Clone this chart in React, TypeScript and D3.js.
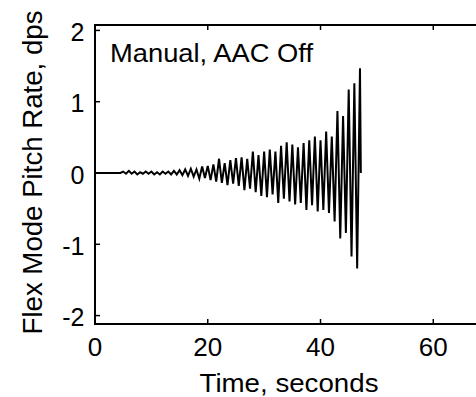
import React from "react";
import * as d3 from "d3";

// ---- data ----
const signalTime: number[] = [
  0, 4.5,
  5.0, 5.5, 6.0, 6.5, 7.0, 7.5, 8.0, 8.5, 9.0, 9.5,
  10.0, 10.5, 11.0, 11.5, 12.0, 12.5, 13.0, 13.5, 14.0, 14.5,
  15.0, 15.5, 16.0, 16.5, 17.0, 17.5, 18.0, 18.5, 19.0, 19.5,
  20.0, 20.5, 21.0, 21.5, 22.0, 22.5, 23.0, 23.5, 24.0, 24.5,
  25.0, 25.5, 26.0, 26.5, 27.0, 27.5, 28.0, 28.5, 29.0, 29.5,
  30.0, 30.5, 31.0, 31.5, 32.0, 32.5, 33.0, 33.5, 34.0, 34.5,
  35.0, 35.5, 36.0, 36.5, 37.0, 37.5, 38.0, 38.5, 39.0, 39.5,
  40.0, 40.5, 41.0, 41.5, 42.0, 42.5, 43.0, 43.5, 44.0, 44.5,
  45.0, 45.5, 46.0, 46.5, 47.0, 47.15,
];
const signalValue: number[] = [
  0, 0,
  0.02, -0.01, 0.03, -0.01, 0.02, -0.02, 0.01, -0.01, 0.02, -0.01,
  0.02, -0.02, 0.01, -0.02, 0.02, -0.01, 0.02, -0.02, 0.03, -0.02,
  0.04, -0.03, 0.05, -0.04, 0.06, -0.05, 0.05, -0.08, 0.09, -0.07,
  0.10, -0.10, 0.12, -0.12, 0.20, -0.14, 0.14, -0.17, 0.18, -0.15,
  0.21, -0.18, 0.22, -0.24, 0.20, -0.22, 0.30, -0.27, 0.25, -0.32,
  0.30, -0.34, 0.33, -0.30, 0.30, -0.42, 0.38, -0.36, 0.43, -0.40,
  0.40, -0.44, 0.36, -0.42, 0.42, -0.52, 0.46, -0.45, 0.51, -0.54,
  0.46, -0.52, 0.58, -0.56, 0.51, -0.68, 0.87, -0.92, 0.80, -0.84,
  1.17, -1.17, 1.26, -1.34, 1.47, 0.0,
];
const xTicks: number[] = [0, 20, 40, 60];
const yTicks: number[] = [-2, -1, 0, 1, 2];
const xLabel = "Time, seconds";
const yLabel = "Flex Mode Pitch Rate, dps";
const annotation = "Manual, AAC Off";

const W = 476;
const H = 397;
const FONT = "'Liberation Sans', Arial, sans-serif";

export default function App() {
  const left = 95;
  const top = 25;
  const bottom = 324;
  const x = d3.scaleLinear().domain([0, 70]).range([left, left + 70 * 5.638]);
  const y = d3.scaleLinear().domain([-2.118, 2.076]).range([bottom, top]);

  const pts: [number, number][] = signalTime.map((t, i) => [t, signalValue[i]]);
  const line = d3
    .line<[number, number]>()
    .x((d) => x(d[0]))
    .y((d) => y(d[1]));

  const right = x(70);
  const tickLen = 5;

  return (
    <svg
      width={W}
      height={H}
      style={{ position: "absolute", left: 0, top: 0, background: "#fff" }}
      fontFamily={FONT}
    >
      <rect x={0} y={0} width={W} height={H} fill="#fff" />
      {/* data */}
      <path d={line(pts) || ""} fill="none" stroke="#000" strokeWidth={2} strokeLinejoin="miter" />
      {/* axes box */}
      <line x1={left} x2={left} y1={top} y2={bottom} stroke="#000" strokeWidth={2} />
      <line x1={left - 1} x2={right} y1={bottom} y2={bottom} stroke="#000" strokeWidth={2} />
      <line x1={left - 1} x2={right} y1={top} y2={top} stroke="#000" strokeWidth={2} />
      {/* y ticks */}
      {yTicks.map((v) => (
        <g key={"y" + v}>
          <line x1={left} x2={left + tickLen} y1={y(v)} y2={y(v)} stroke="#000" strokeWidth={1.5} />
          <text x={84.5} y={y(v) + 10.5} textAnchor="end" fontSize={25} fill="#000">
            {v < 0 ? "-" + Math.abs(v) : String(v)}
          </text>
        </g>
      ))}
      {/* x ticks */}
      {xTicks.map((v) => (
        <g key={"x" + v}>
          <line x1={x(v)} x2={x(v)} y1={bottom} y2={bottom - tickLen} stroke="#000" strokeWidth={1.5} />
          <line x1={x(v)} x2={x(v)} y1={top} y2={top + tickLen} stroke="#000" strokeWidth={1.5} />
          <text x={x(v)} y={356} textAnchor="middle" fontSize={26} fill="#000">
            {String(v)}
          </text>
        </g>
      ))}
      {/* labels */}
      <text
        x={289}
        y={392}
        textAnchor="middle"
        fontSize={26}
        fill="#000"
        textLength={179}
        lengthAdjust="spacingAndGlyphs"
      >
        {xLabel}
      </text>
      <text
        transform={`translate(42, 172.5) rotate(-90)`}
        textAnchor="middle"
        fontSize={27}
        fill="#000"
        textLength={324}
        lengthAdjust="spacingAndGlyphs"
      >
        {yLabel}
      </text>
      <text
        x={110}
        y={61.5}
        fontSize={26}
        fill="#000"
        textLength={203}
        lengthAdjust="spacingAndGlyphs"
      >
        {annotation}
      </text>
    </svg>
  );
}
